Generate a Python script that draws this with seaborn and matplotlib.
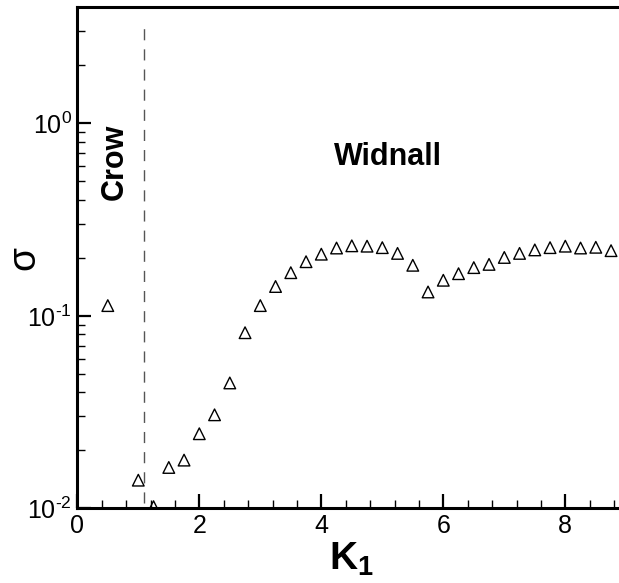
import numpy as np
import pandas as pd
import matplotlib
matplotlib.use("Agg")
import matplotlib.pyplot as plt
from matplotlib.ticker import FixedLocator, LogLocator, NullFormatter, FuncFormatter
import seaborn as sns

# growth rate sigma versus axial wavenumber K1
k1 = [0.5, 1.0, 1.25, 1.5, 1.75, 2.0, 2.25, 2.5, 2.75, 3.0, 3.25, 3.5,
      3.75, 4.0, 4.25, 4.5, 4.75, 5.0, 5.25, 5.5, 5.75, 6.0, 6.25, 6.5,
      6.75, 7.0, 7.25, 7.5, 7.75, 8.0, 8.25, 8.5, 8.75]
sigma = [0.113, 0.0140, 0.0102, 0.0163, 0.0178, 0.0244, 0.0306, 0.0448,
         0.0817, 0.113, 0.142, 0.1675, 0.191, 0.209, 0.225, 0.231, 0.230,
         0.226, 0.211, 0.183, 0.133, 0.153, 0.1655, 0.178, 0.185, 0.201,
         0.211, 0.220, 0.226, 0.230, 0.225, 0.227, 0.218]

crow_boundary = 1.1
x_major = [0, 2, 4, 6, 8]

df = pd.DataFrame({"K1": k1, "sigma": sigma})

sns.set_style("white")
plt.rcParams["font.family"] = ["Liberation Sans", "DejaVu Sans"]
plt.rcParams["mathtext.fontset"] = "custom"
plt.rcParams["mathtext.rm"] = "Liberation Sans"
plt.rcParams["mathtext.bf"] = "Liberation Sans:bold"
plt.rcParams["text.color"] = "black"
plt.rcParams["axes.labelcolor"] = "black"
plt.rcParams["xtick.color"] = "black"
plt.rcParams["ytick.color"] = "black"

W, H = 619, 583
fig = plt.figure(figsize=(W / 100, H / 100), dpi=100)
x0, x_unit = 77.3, 61.0
y_bot, y_top = 508.3, 7.0
ax = fig.add_axes([x0 / W, (H - y_bot) / H, 9 * x_unit / W, (y_bot - y_top) / H])

sns.scatterplot(data=df, x="K1", y="sigma", ax=ax, marker="^", s=70,
                facecolor="none", edgecolor="black", linewidth=1.0, zorder=3,
                clip_on=True)

ax.set_yscale("log")
ax.set_xlim(0, 9)
ax.set_ylim(1e-2, 4.02)

# Crow / Widnall boundary
ax.plot([crow_boundary, crow_boundary], [0.0107, 3.4], color="#555555",
        lw=1.0, dashes=(8, 6.5), zorder=2)

ax.text(0.62, 0.63, "Crow", rotation=90, fontsize=22, fontweight="bold",
        ha="center", va="center")
ax.text(5.1, 0.67, "Widnall", fontsize=22, fontweight="bold",
        ha="center", va="center")


def decade_label(v, pos):
    e = int(round(np.log10(v)))
    if e < 0:
        return r"$\mathdefault{10^{\text{-}%d}}$" % (-e)
    return r"$\mathdefault{10^{%d}}$" % e


ax.xaxis.set_major_locator(FixedLocator(x_major))
ax.xaxis.set_minor_locator(FixedLocator(
    [v for v in np.arange(0, 9.01, 0.4) if all(abs(v - m) > 1e-6 for m in x_major)]))
ax.yaxis.set_major_locator(LogLocator(base=10))
ax.yaxis.set_major_formatter(FuncFormatter(decade_label))
ax.yaxis.set_minor_locator(LogLocator(base=10, subs=np.arange(2, 10)))
ax.yaxis.set_minor_formatter(NullFormatter())

ax.tick_params(which="major", direction="in", length=10, width=1.6,
               labelsize=18, pad=4, bottom=True, left=True, top=False, right=False)
ax.tick_params(which="minor", direction="in", length=5.5, width=1.0,
               bottom=True, left=True, top=False, right=False)

for side in ["left", "bottom", "top"]:
    ax.spines[side].set_linewidth(2.2)
    ax.spines[side].set_color("black")
ax.spines["right"].set_visible(False)

ax.set_xlabel(r"$\mathbf{K}_{\mathbf{1}}$", fontsize=28, labelpad=2)
ax.set_ylabel("σ", fontsize=28)
ax.yaxis.set_label_coords(-0.064, 0.5)

fig.savefig("out.png", dpi=100)
